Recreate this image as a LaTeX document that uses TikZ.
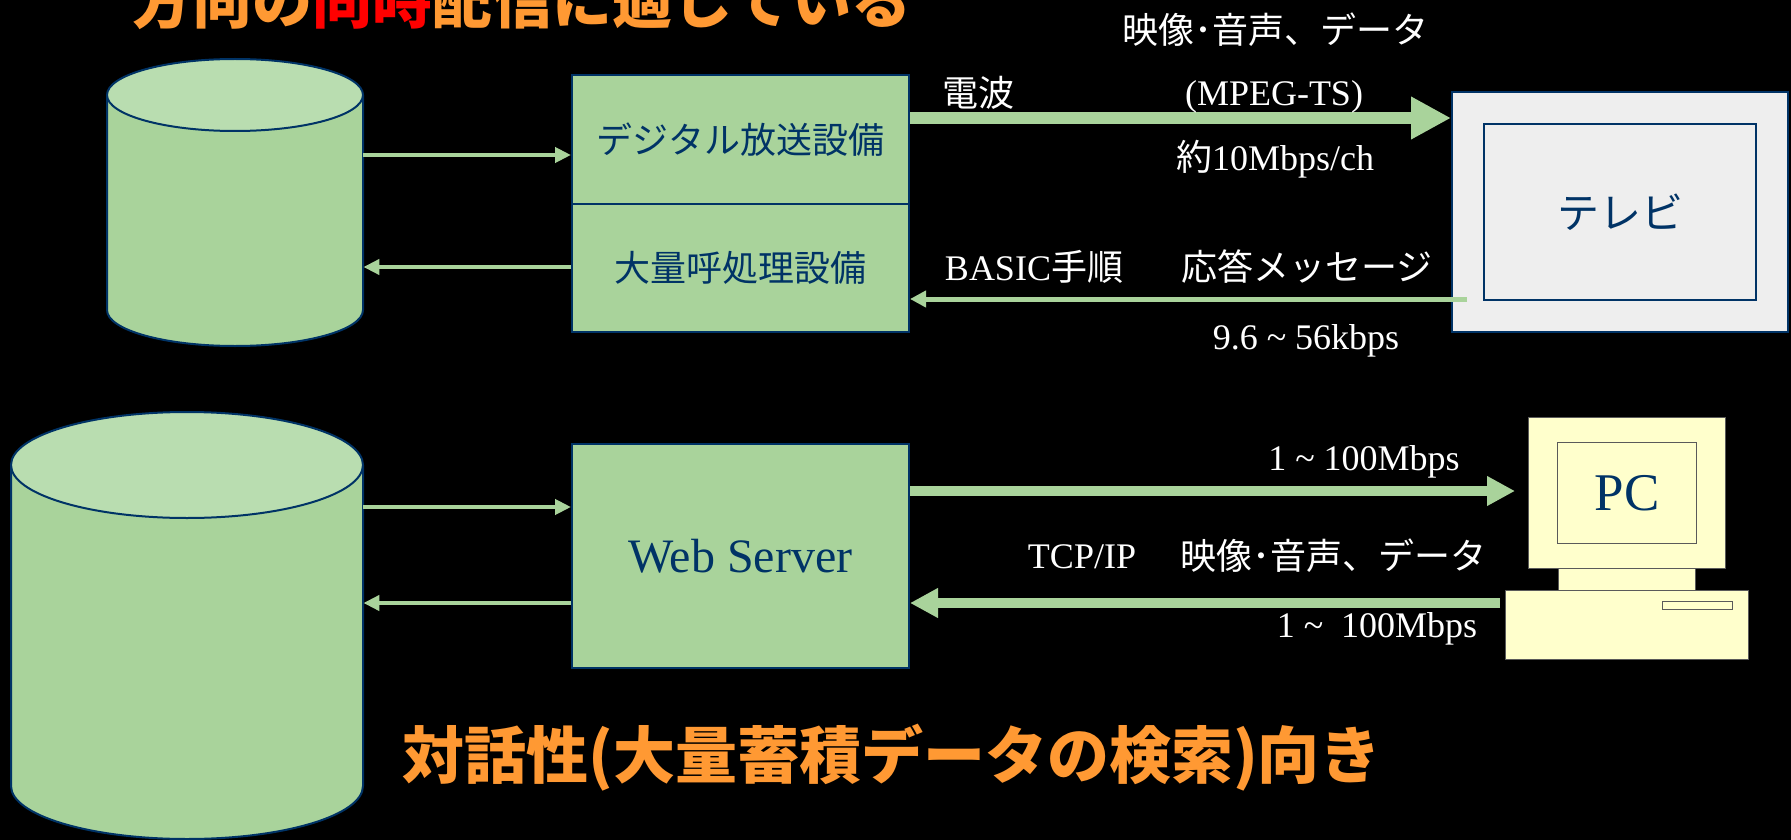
\documentclass[tikz,border=0pt]{standalone}
\usepackage{fontspec}
\setmainfont{Liberation Serif}
\newfontfamily\jp{Noto Sans CJK JP}
\usetikzlibrary{arrows.meta}
\definecolor{navy}{RGB}{0,51,102}
\definecolor{gfill}{RGB}{169,211,155}
\definecolor{gtop}{RGB}{185,221,176}
\definecolor{garrow}{RGB}{169,211,155}
\definecolor{tvgray}{RGB}{238,238,238}
\definecolor{pcyel}{RGB}{255,255,204}
\definecolor{pcline}{RGB}{90,90,90}
\definecolor{orng}{RGB}{255,153,51}
\newcommand\fs[1]{\fontsize{#1}{#1}\selectfont}
\tikzset{
  gbox/.style={draw=navy, line width=2pt, fill=gfill, inner sep=0pt, text=navy, anchor=north west},
  pcbox/.style={draw=pcline, line width=1.2pt, fill=pcyel, inner sep=0pt, anchor=north west},
  lbl/.style={text=white, inner sep=0pt, anchor=base, font=\fs{36}},
  thinarr/.style={draw=garrow, line width=4pt, -{Triangle[length=16pt,width=15pt]}},
  bigarr/.style={draw=garrow, line width=12pt, -{Triangle[length=40pt,width=40pt]}},
  retarr/.style={draw=garrow, line width=5pt, -{Triangle[length=16pt,width=16pt]}},
  pcarr/.style={draw=garrow, line width=10pt, -{Triangle[length=28pt,width=28pt]}},
  cylline/.style={draw=navy, line width=2pt},
}
\begin{document}
\begin{tikzpicture}[x=1pt,y=-1pt]
\useasboundingbox (0,0) rectangle (1791,840);
\fill[black] (0,0) rectangle (1791,840);
\clip (0,0) rectangle (1791,840);

% level coordinates
\coordinate (yA) at (0,118);
\coordinate (yB) at (0,299);
\coordinate (yC) at (0,491);
\coordinate (yD) at (0,603);
\coordinate (yE) at (0,155);
\coordinate (yF) at (0,267);
\coordinate (yG) at (0,507);

% titles
\node[anchor=base, inner sep=0pt, font=\jp\bfseries\fs{60}] (title1) at (522,24)
  {\color{orng}方向の\color{red}同時\color{orng}配信に適している};
\node[anchor=base, inner sep=0pt, font=\jp\bfseries\fs{62}, text=orng] (title2) at (892,778)
  {対話性(大量蓄積データの検索)向き};

% cylinder A
\fill[gfill] (107,95) -- (107,310) arc[start angle=180,end angle=360,x radius=128pt,y radius=36pt] -- (363,95) -- cycle;
\draw[cylline] (107,95) -- (107,310) arc[start angle=180,end angle=360,x radius=128pt,y radius=36pt] -- (363,95);
\draw[cylline, fill=gtop] (235,95) ellipse[x radius=128pt, y radius=36pt];
\node[inner sep=0pt, minimum width=256pt, minimum height=287pt, anchor=north west] (dbA) at (107,59) {};

% cylinder B
\fill[gfill] (11,465) -- (11,786) arc[start angle=180,end angle=360,x radius=176pt,y radius=53pt] -- (363,465) -- cycle;
\draw[cylline] (11,465) -- (11,786) arc[start angle=180,end angle=360,x radius=176pt,y radius=53pt] -- (363,465);
\draw[cylline, fill=gtop] (187,465) ellipse[x radius=176pt, y radius=53pt];
\node[inner sep=0pt, minimum width=352pt, minimum height=427pt, anchor=north west] (dbB) at (11,412) {};

% boxes
\node[gbox, minimum width=337pt, minimum height=129pt, font=\jp\fs{36}] (dig) at (571,74) {デジタル放送設備};
\node[gbox, minimum width=337pt, minimum height=128pt, font=\jp\fs{36}] (mass) at (571,203) {大量呼処理設備};
\node[gbox, minimum width=337pt, minimum height=224pt, font=\fs{48}] (web) at (571,443) {Web Server};

% TV
\node[draw=navy, line width=2pt, fill=tvgray, inner sep=0pt, minimum width=336pt, minimum height=240pt, anchor=north west] (tv) at (1451,91) {};
\node[draw=navy, line width=2pt, inner sep=0pt, minimum width=272pt, minimum height=176pt, text=navy, font=\jp\fs{42}] (tvscr) at (tv.center) {テレビ};

% PC
\node[pcbox, minimum width=197pt, minimum height=151pt] (mon) at (1528,417) {};
\node[pcbox, minimum width=139pt, minimum height=101pt, text=navy, font=\fs{53}] (scr) at (1557,442) {PC};
\node[pcbox, minimum width=137pt, minimum height=22pt] (neck) at (1558,568) {};
\node[pcbox, minimum width=243pt, minimum height=69pt] (base) at (1505,590) {};
\node[pcbox, minimum width=70pt, minimum height=8pt] (slot) at (1662,601) {};

% thin arrows
\draw[thinarr] (dbA.east |- yE) -- (dig.west |- yE);
\draw[thinarr] (mass.west |- yF) -- (dbA.east |- yF);
\draw[thinarr] (dbB.east |- yG) -- (web.west |- yG);
\draw[thinarr] (web.west |- yD) -- (dbB.east |- yD);

% broadcast arrows
\draw[bigarr] (dig.east |- yA) -- (tv.west |- yA);
\draw[retarr, shorten <=-16pt] (tv.west |- yB) -- (mass.east |- yB);

% PC arrows
\draw[pcarr, shorten >=13pt] (web.east |- yC) -- (mon.west |- yC);
\draw[pcarr, shorten <=5pt] (base.west |- yD) -- (web.east |- yD);

% labels
\node[lbl] (l1) at (1275,44) {\jp 映像･音声、データ};
\node[lbl] (l2) at (978,107) {\jp 電波};
\node[lbl] (l3) at (1274,106) {(MPEG-TS)};
\node[lbl] (l4) at (1275,170) {{\jp 約}10Mbps/ch};
\node[lbl] (l5) at (1034,280) {BASIC{\jp 手順}};
\node[lbl] (l6) at (1307,280) {\jp 応答メッセージ};
\node[lbl] (l7) at (1306,349) {9.6 \textasciitilde{} 56kbps};
\node[lbl] (l8) at (1364,470) {1 \textasciitilde{} 100Mbps};
\node[lbl] (l9) at (1082,568) {TCP/IP};
\node[lbl] (l10) at (1333,569) {\jp 映像･音声、データ};
\node[lbl] (l11) at (1377,637) {1 \textasciitilde\ \ 100Mbps};
\end{tikzpicture}
\end{document}
